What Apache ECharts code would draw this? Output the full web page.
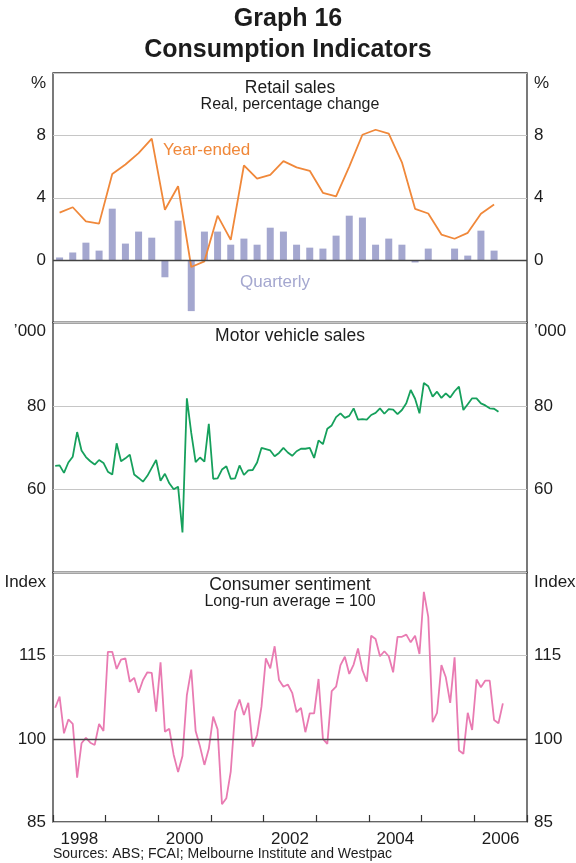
<!DOCTYPE html>
<html>
<head>
<meta charset="utf-8">
<script src="https://cdn.jsdelivr.net/npm/echarts@6/dist/echarts.min.js"></script>
<style>
  html, body { margin: 0; padding: 0; background: #fff; }
  #chart { width: 576px; height: 863px; }
</style>
</head>
<body>
<div id="chart"></div>
<script>
// ---------- data ----------
// Retail sales, quarterly % change and year-ended % change, Mar qtr 1998 .. Jun qtr 2006
const retailQuarterly = [
  0.17, 0.49, 1.12, 0.61, 3.3, 1.06, 1.83, 1.44, -1.1, 2.53, -3.27, 1.83,
  1.83, 0.99, 1.38, 0.99, 2.08, 1.83, 0.99, 0.8, 0.74, 1.57, 2.85, 2.73,
  0.99, 1.38, 0.99, -0.15, 0.74, 0, 0.74, 0.29, 1.89, 0.61
];
const retailYearEnded = [
  3.05, 3.39, 2.48, 2.34, 5.52, 6.13, 6.86, 7.79, 3.23, 4.74, -0.44, -0.08,
  2.85, 1.3, 6.07, 5.22, 5.47, 6.35, 5.95, 5.73, 4.32, 4.09, 6.0, 8.04,
  8.36, 8.11, 6.27, 3.29, 2.99, 1.64, 1.37, 1.75, 2.97, 3.56
];
// Motor vehicle sales, '000, monthly Jan 1998 .. Jun 2006
const motorSales = [
  65.6, 65.7, 63.9, 66.4, 67.8, 73.7, 69.3, 67.7, 66.7, 65.9, 67.0, 66.3,
  64.2, 63.5, 71.0, 66.7, 67.4, 68.3, 63.5, 62.7, 61.8, 63.2, 65.1, 67.0,
  62.0, 63.7, 61.4, 60.0, 60.6, 49.6, 81.8, 73.5, 66.5, 67.6, 66.6, 75.7,
  62.5, 62.6, 64.7, 65.5, 62.5, 62.6, 65.7, 63.4, 64.5, 64.6, 66.4, 69.9,
  69.6, 69.3, 67.9, 68.7, 69.9, 68.8, 68.0, 69.1, 69.7, 69.7, 69.9, 67.5,
  71.7, 70.8, 74.5, 75.3, 77.3, 78.2, 77.1, 77.6, 79.4, 76.7, 76.8, 76.7,
  77.8, 78.3, 79.4, 78.1, 79.2, 79.1, 78.0, 79.0, 80.6, 83.8, 81.7, 78.2,
  85.5, 84.7, 82.2, 83.4, 81.9, 83.0, 82.0, 83.5, 84.6, 79.0, 80.4, 81.8,
  81.8, 80.6, 80.1, 79.4, 79.3, 78.6
];
// Consumer sentiment index, monthly Jan 1998 .. Jul 2006
const sentiment = [
  105.6, 107.6, 101.0, 103.5, 102.7, 93.0, 99.2, 100.2, 99.3, 98.9, 102.7, 101.4,
  115.7, 115.7, 112.6, 114.3, 114.5, 110.3, 111.0, 108.3, 110.6, 112.0, 111.9, 104.9,
  113.8, 101.3, 101.8, 97.1, 94.0, 96.9, 107.9, 112.5, 101.4, 98.6, 95.3, 98.2,
  104.0, 101.7, 88.2, 89.3, 94.1, 104.9, 107.1, 104.3, 106.5, 98.6, 100.7, 105.8,
  114.5, 112.7, 116.7, 110.6, 109.4, 109.8, 108.3, 104.8, 105.6, 101.2, 104.6, 104.6,
  110.8, 100.0, 99.1, 108.6, 109.4, 113.3, 114.8, 111.7, 113.4, 116.3, 112.4, 110.3,
  118.6, 118.0, 114.9, 115.8, 114.9, 112.0, 118.4, 118.4, 118.8, 117.4, 118.6, 115.3,
  126.5, 122.0, 103.0, 104.7, 113.3, 111.1, 106.5, 114.7, 97.9, 97.3, 104.7, 101.6,
  110.7, 109.3, 110.5, 110.5, 103.4, 102.8, 106.4
];
const startYear = 1998;
const years = ["1998", "1999", "2000", "2001", "2002", "2003", "2004", "2005", "2006"];

// ---------- chart ----------
const FONT = '"Liberation Sans", Arial, Helvetica, sans-serif';
const TXT = "#1c1c1c";
const GRIDC = "#c6c6c6";
const FRAME = "#333";

// quarterly points sit mid-quarter, monthly points mid-month
const qData = arr => arr.map((v, i) => [startYear + (i + 0.5) / 4, v]);
const mData = arr => arr.map((v, i) => [startYear + (i + 0.5) / 12, v]);

const panels = [
  { top: 73, height: 249.5, min: -4, max: 12, interval: 4, hide: [-4, 12] },
  { top: 322.5, height: 250, min: 40, max: 100, interval: 20, hide: [40, 100] },
  { top: 572.5, height: 249.5, min: 85, max: 130, interval: 15, hide: [130] }
];

const grid = panels.map(p => ({
  left: 53, right: 49, top: p.top, height: p.height,
  show: true, borderColor: FRAME, borderWidth: 1.3, backgroundColor: "transparent"
}));

const xAxis = panels.map((p, i) => ({
  type: "value", gridIndex: i, min: 1998, max: 2007,
  show: false, splitLine: { show: false }
}));
// year labels centred in each year, ticks at year boundaries
xAxis.push({
  type: "category", gridIndex: 2, data: years, boundaryGap: true, position: "bottom",
  axisLine: { show: false },
  axisTick: { show: true, inside: true, length: 7, interval: 0, lineStyle: { color: FRAME, width: 1.2 } },
  axisLabel: { interval: 1, color: TXT, fontSize: 17, fontFamily: FONT, margin: 9 },
  splitLine: { show: false }
});

const yAxis = [];
panels.forEach((p, i) => {
  ["left", "right"].forEach(pos => {
    yAxis.push({
      type: "value", gridIndex: i, position: pos,
      min: p.min, max: p.max, interval: p.interval,
      axisLine: { show: false }, axisTick: { show: false },
      axisLabel: {
        color: TXT, fontSize: 17, fontFamily: FONT, margin: 7,
        formatter: v => (p.hide.includes(v) ? "" : String(v))
      },
      splitLine: { show: pos === "left", lineStyle: { color: GRIDC, width: 1 } }
    });
  });
});

const baseLine = v => ({
  silent: true, symbol: "none", label: { show: false },
  lineStyle: { color: "#444", width: 1.3, type: "solid" },
  data: [{ yAxis: v }]
});

const series = [
  {
    name: "Quarterly", type: "bar", xAxisIndex: 0, yAxisIndex: 0,
    barWidth: 7, itemStyle: { color: "#a4a7cf" },
    data: qData(retailQuarterly),
    markLine: baseLine(0)
  },
  {
    name: "Year-ended", type: "line", xAxisIndex: 0, yAxisIndex: 0,
    symbol: "none", lineStyle: { color: "#f0883a", width: 1.8 },
    data: qData(retailYearEnded)
  },
  {
    name: "Motor vehicle sales", type: "line", xAxisIndex: 1, yAxisIndex: 2,
    symbol: "none", lineStyle: { color: "#16a05c", width: 1.8 },
    data: mData(motorSales)
  },
  {
    name: "Consumer sentiment", type: "line", xAxisIndex: 2, yAxisIndex: 4,
    symbol: "none", lineStyle: { color: "#e97bb2", width: 1.8 },
    data: mData(sentiment),
    markLine: baseLine(100)
  }
];

const headStyle = { color: TXT, fontSize: 17.5, fontWeight: "normal", fontFamily: FONT };
const subStyle = { color: TXT, fontSize: 16, fontFamily: FONT };
const title = [
  { text: "Graph 16", left: "center", top: 7, padding: 0,
    textStyle: { color: TXT, fontSize: 25, fontWeight: "bold", fontFamily: FONT } },
  { text: "Consumption Indicators", left: "center", top: 38, padding: 0,
    textStyle: { color: TXT, fontSize: 25, fontWeight: "bold", fontFamily: FONT } },
  { text: "Retail sales", subtext: "Real, percentage change", left: 290, textAlign: "center",
    top: 79, padding: 0, itemGap: 0, textStyle: headStyle, subtextStyle: subStyle },
  { text: "Motor vehicle sales", left: 290, textAlign: "center", top: 327, padding: 0, textStyle: headStyle },
  { text: "Consumer sentiment", subtext: "Long-run average = 100", left: 290, textAlign: "center",
    top: 576, padding: 0, itemGap: 0, textStyle: headStyle, subtextStyle: subStyle }
];

const label = (text, x, y, align, fill, size) => ({
  type: "text", x, y, silent: true,
  style: { text, fill: fill || TXT, align, verticalAlign: "middle", font: (size || 17) + "px " + FONT }
});

const graphic = [
  label("%", 46, 83, "right"), label("%", 534, 83, "left"),
  label("’000", 46, 331, "right"), label("’000", 534, 331, "left"),
  label("Index", 46, 582, "right"), label("Index", 534, 582, "left"),
  label("Year-ended", 163, 150, "left", "#f0883a"),
  label("Quarterly", 240, 282, "left", "#a4a7cf"),
  label("Sources: ABS; FCAI; Melbourne Institute and Westpac", 53, 854, "left", TXT, 14)
];

const chart = echarts.init(document.getElementById("chart"), null, { renderer: "canvas" });
chart.setOption({
  animation: false,
  backgroundColor: "#fff",
  title, grid, xAxis, yAxis, series, graphic
});
</script>
</body>
</html>
